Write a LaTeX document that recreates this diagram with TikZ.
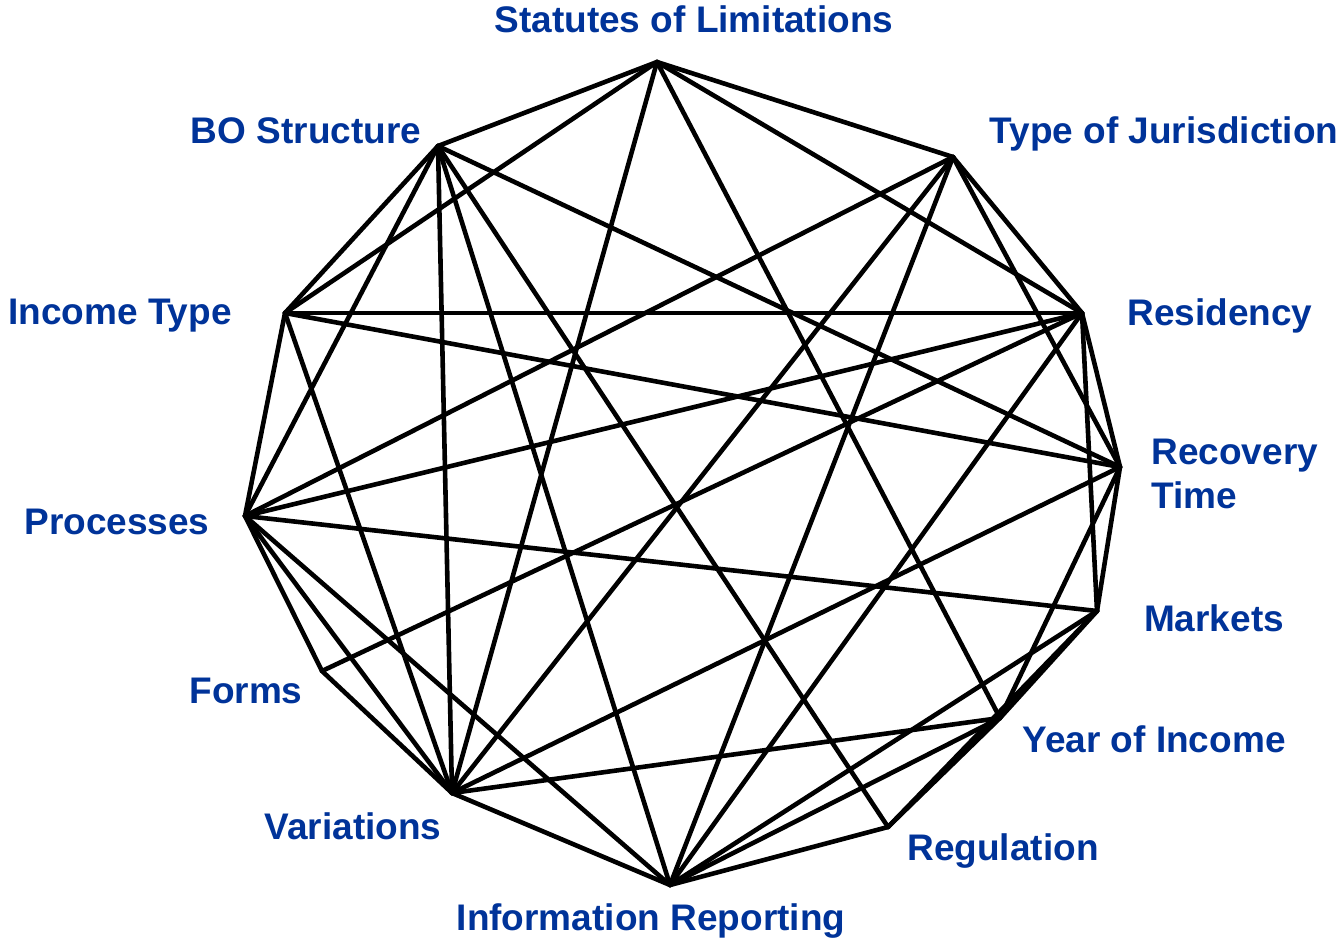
\documentclass[tikz,border=0pt]{standalone}
\usepackage{fontspec}
\setmainfont{Liberation Sans}
\definecolor{labelblue}{RGB}{0,51,153}
\begin{document}
\begin{tikzpicture}[x=0.5pt,y=-0.5pt,
    lbl/.style={text=labelblue, font=\bfseries\fontsize{18.5}{22}\selectfont, inner sep=0pt},
    link/.style={line width=2.3pt, line cap=round, line join=round}]
        \useasboundingbox (0,0) rectangle (1339,947);

        % corners
        \coordinate (SL) at (657,62);
        \coordinate (TJ) at (953,157);
        \coordinate (RE) at (1082,313);
        \coordinate (RT) at (1120,467);
        \coordinate (MA) at (1097,611);
        \coordinate (YI) at (1000,718);
        \coordinate (RG) at (888,827);
        \coordinate (IR) at (670,885);
        \coordinate (VA) at (452,793);
        \coordinate (FO) at (322,671);
        \coordinate (PR) at (245,516);
        \coordinate (IT) at (285,313);
        \coordinate (BO) at (438,146);

        % labels
        \node[lbl] (lSL) at (694,19) {Statutes of Limitations};
        \node[lbl] (lTJ) at (1164,134) {Type of Jurisdiction};
        \node[lbl] (lRE) at (1220,316) {Residency};
        \node[lbl, anchor=west, align=left] (lRT) at (1151,474) {Recovery\\Time};
        \node[lbl] (lMA) at (1214,618) {Markets};
        \node[lbl] (lYI) at (1154,739) {Year of Income};
        \node[lbl] (lRG) at (1003,851) {Regulation};
        \node[lbl] (lIR) at (651,921) {Information Reporting};
        \node[lbl] (lVA) at (353,826) {Variations};
        \node[lbl] (lFO) at (246,691) {Forms};
        \node[lbl] (lPR) at (117,522) {Processes};
        \node[lbl] (lIT) at (120,316) {Income Type};
        \node[lbl] (lBO) at (306,131) {BO Structure};

        \foreach \a/\b in {SL/BO, SL/IT, SL/VA, SL/YI, SL/TJ, SL/RE,
                BO/IT, BO/PR, BO/VA, BO/IR, BO/RG, BO/RT,
                TJ/PR, TJ/VA, TJ/IR, TJ/RT, TJ/RE,
                IT/RE, IT/RT, IT/PR, IT/VA,
                RE/PR, RE/FO, RE/IR, RE/MA, RE/RT,
                RT/VA, RT/MA, RT/YI,
                PR/MA, PR/FO, PR/VA, PR/IR,
                FO/VA, VA/YI, VA/IR,
                MA/IR, MA/RG, MA/YI,
                YI/IR, YI/RG, RG/IR}
            \draw[link] (\a) -- (\b);
    \end{tikzpicture}
\end{document}
